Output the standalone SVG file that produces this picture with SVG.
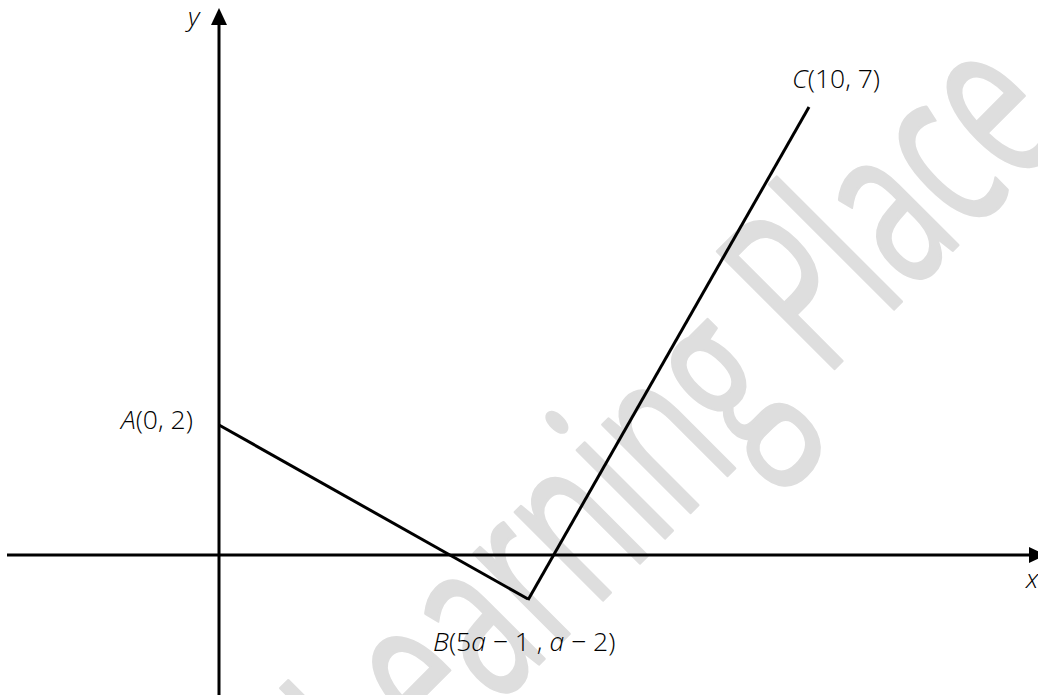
<svg xmlns="http://www.w3.org/2000/svg" width="1038" height="695" viewBox="0 0 1038 695">
<style>
.wm{font-family:"Open Sans","Liberation Sans",sans-serif;font-size:232px;fill:#dedede;stroke:#dedede;stroke-width:3;stroke-linejoin:round}
.ln{stroke:#000;stroke-width:3;fill:none;stroke-linecap:butt}
.ah{fill:#000;stroke:none}
.lbl{font-family:"Open Sans","Liberation Sans",sans-serif;font-weight:300;font-size:26.5px;fill:#000}
.it{font-style:italic}
</style>
<rect width="1038" height="695" fill="#fff"/>
<text id="watermark" class="wm" transform="translate(387.5,815.5) rotate(-45) scale(0.615,1)">Learning Place</text>
<g id="axes">
<line class="ln" x1="219" y1="695" x2="219" y2="22"/>
<polygon class="ah" points="219,8 211,25 227,25"/>
<text class="lbl it" x="188" y="26">y</text>
<line class="ln" x1="7" y1="555" x2="1032" y2="555"/>
<polygon class="ah" points="1046,555 1029,547 1029,563"/>
<text class="lbl it" x="1026" y="588">x</text>
</g>
<g id="connectors">
<line class="ln" x1="219" y1="425" x2="528" y2="599"/>
<line class="ln" x1="528" y1="600" x2="809" y2="107"/>
</g>
<g id="node-A">
<text class="lbl" x="121" y="429"><tspan class="it">A</tspan>(0, 2)</text>
</g>
<g id="node-B">
<text class="lbl" x="433" y="651"><tspan class="it">B</tspan>(5<tspan class="it">a</tspan> − 1 , <tspan class="it">a</tspan> − 2)</text>
</g>
<g id="node-C">
<text class="lbl" x="792" y="88"><tspan class="it">C</tspan>(10, 7)</text>
</g>
</svg>
